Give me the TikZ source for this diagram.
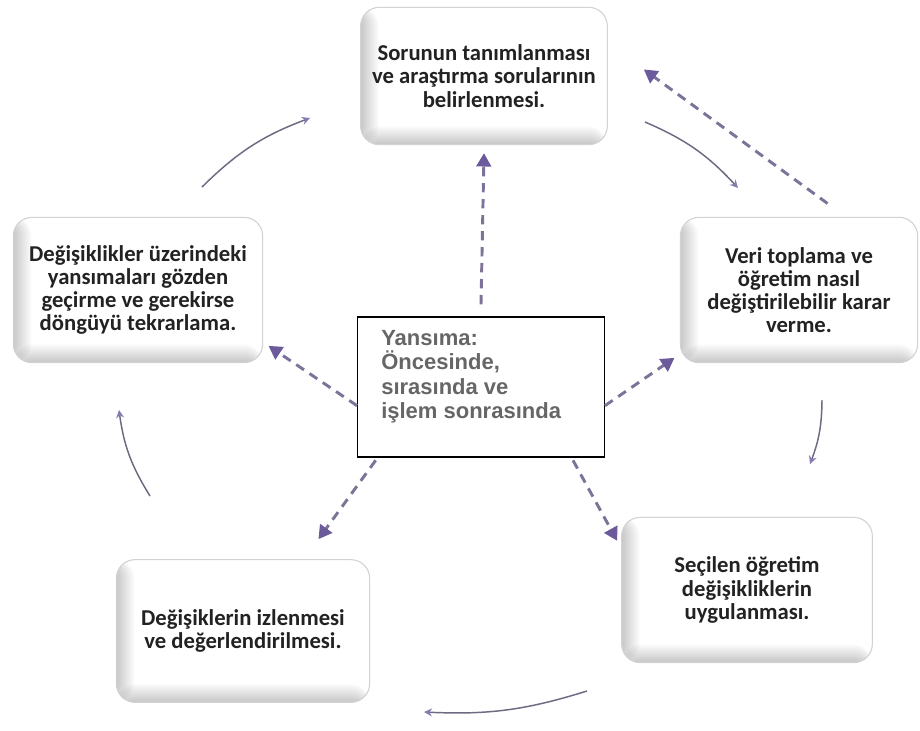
\documentclass[tikz,border=0pt]{standalone}
\usepackage{fontspec}
\setmainfont{Carlito}
\newfontfamily\arialfont{Liberation Sans}
\usetikzlibrary{arrows.meta}
\definecolor{dashcol}{HTML}{7D7398}
\definecolor{tipcol}{HTML}{6C5A9C}
\definecolor{curvecol}{HTML}{6E6A82}
\definecolor{boxtext}{HTML}{222222}
\definecolor{ctrtext}{HTML}{666666}
\tikzset{
  stagebox/.style={rounded corners=14pt, draw=gray!35, line width=0.8pt, fill=white,
    align=center, font=\bfseries\fontsize{17}{17.4}\selectfont, text=boxtext,
    path picture={
      \foreach \w in {1.5,3,...,13.5}{
        \fill[black, opacity=0.022]
          (path picture bounding box.south west) rectangle ([xshift=\w pt]path picture bounding box.north west);
        \fill[black, opacity=0.022]
          (path picture bounding box.south west) rectangle ([yshift=\w pt]path picture bounding box.south east);
      }
    }},
  centerbox/.style={draw=black, line width=1pt, fill=white, minimum width=185pt, minimum height=105pt},
  centertext/.style={align=left, anchor=north west, inner sep=0pt, text=ctrtext,
    font=\arialfont\bfseries\fontsize{16.5}{18.4}\selectfont},
  dasharrow/.style={dashcol, line width=2.2pt, dash pattern=on 7pt off 5pt,
    -{Triangle[width=11pt,length=10pt,fill=tipcol,color=tipcol]}},
  cyclearrow/.style={curvecol, line width=1.1pt, -{Stealth[width=6pt,length=6pt,color=tipcol!80]}}
}
\begin{document}
\begin{tikzpicture}[x=0.75pt,y=-0.75pt]
\useasboundingbox (0,0) rectangle (920,731);
\fill[white] (0,0) rectangle (920,731);

\node[stagebox, minimum width=185pt, minimum height=103pt] (top) at (484,76)
  {Sorunun tanımlanması\\ve araştırma sorularının\\belirlenmesi.};
\node[stagebox, minimum width=178pt, minimum height=109pt] (right) at (799,290)
  {Veri toplama ve\\öğretim nasıl\\değiştirilebilir karar\\verme.};
\node[stagebox, minimum width=187pt, minimum height=109pt] (left) at (138,290)
  {Değişiklikler üzerindeki\\yansımaları gözden\\geçirme ve gerekirse\\döngüyü tekrarlama.};
\node[stagebox, minimum width=190pt, minimum height=107pt] (botleft) at (243,631)
  {Değişiklerin izlenmesi\\ve değerlendirilmesi.};
\node[stagebox, minimum width=188pt, minimum height=109pt] (botright) at (747,590)
  {Seçilen öğretim\\değişikliklerin\\uygulanması.};

\node[centerbox] (ctr) at (481,387) {};
\node[centertext] (ctrtext) at ([xshift=18pt,yshift=-10pt]ctr.north west)
  {Yansıma:\\Öncesinde,\\sırasında ve\\işlem sonrasında};

% dashed arrows from the centre
\draw[dasharrow] ([yshift=9pt]ctr.north) -- ([yshift=-6pt]top.south);
\draw[dasharrow] ([yshift=-14pt]ctr.west) -- ([xshift=4pt,yshift=13pt]left.south east);
\draw[dasharrow] ([xshift=14pt,yshift=-2pt]ctr.south west) -- ([xshift=152pt,yshift=15pt]botleft.north west);
\draw[dasharrow] ([yshift=-14pt]ctr.east) -- ([xshift=-4pt,yshift=4pt]right.south west);
\draw[dasharrow] ([xshift=-24pt,yshift=-2pt]ctr.south east) -- ([xshift=-3pt,yshift=-18pt]botright.north west);
\draw[dasharrow] ([xshift=-68pt,yshift=10pt]right.north east) -- ([xshift=27pt,yshift=-47pt]top.north east);

% curved cycle arrows
\coordinate (c1a) at (202,187); \coordinate (c1b) at (310,118);
\coordinate (c2a) at (645,122); \coordinate (c2b) at (738,188);
\coordinate (c3a) at (822,400); \coordinate (c3b) at (810,464);
\coordinate (c4a) at (587,691); \coordinate (c4b) at (424,712);
\coordinate (c5a) at (150,496); \coordinate (c5b) at (119,410);
\draw[cyclearrow] (c1a) to[bend left=12] (c1b);
\draw[cyclearrow] (c2a) to[bend left=12] (c2b);
\draw[cyclearrow] (c3a) to[bend left=10] (c3b);
\draw[cyclearrow] (c4a) to[bend left=10] (c4b);
\draw[cyclearrow] (c5a) to[bend left=12] (c5b);
\end{tikzpicture}
\end{document}
